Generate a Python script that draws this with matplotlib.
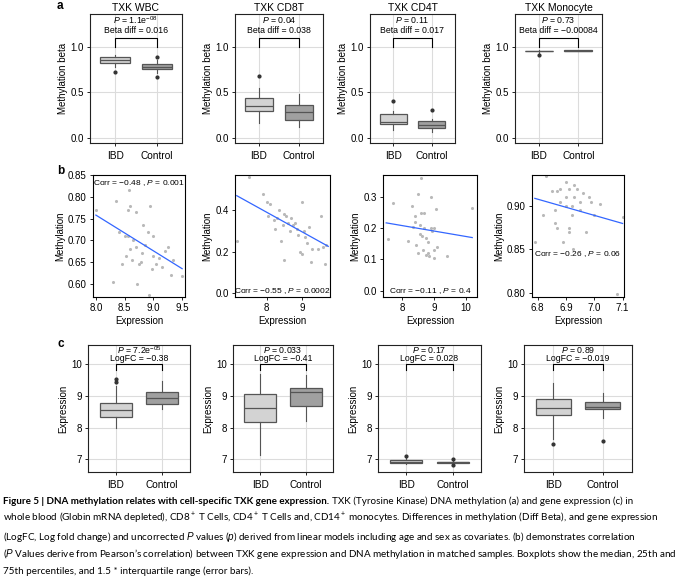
import numpy as np
import matplotlib
matplotlib.use("Agg")
import matplotlib.pyplot as plt

plt.rcParams['font.family'] = ['Liberation Sans', 'DejaVu Sans']
plt.rcParams['mathtext.fontset'] = 'custom'
plt.rcParams['mathtext.it'] = 'Liberation Sans:italic'
plt.rcParams['mathtext.rm'] = 'Liberation Sans'

groups = ['IBD', 'Control']
cells = ['TXK WBC', 'TXK CD8T', 'TXK CD4T', 'TXK Monocyte']

# panel a: methylation boxplot stats (q1, med, q3, whislo, whishi, fliers)
meth_box = [
    [(0.83, 0.865, 0.895, 0.78, 0.92, [0.73]), (0.765, 0.785, 0.815, 0.72, 0.86, [0.67, 0.89])],
    [(0.29, 0.35, 0.44, 0.16, 0.55, [0.68]), (0.20, 0.28, 0.36, 0.12, 0.48, [])],
    [(0.15, 0.17, 0.26, 0.08, 0.30, [0.41]), (0.11, 0.14, 0.18, 0.06, 0.21, [0.31])],
    [(0.955, 0.96, 0.965, 0.94, 0.97, [0.92]), (0.96, 0.965, 0.97, 0.955, 0.975, [])],
]
meth_p = ['1.1e$^{-08}$', '0.04', '0.11', '0.73']
meth_diff = ['0.016', '0.038', '0.017', '\u22120.00084']

# panel c: expression boxplot stats
expr_box = [
    [(8.32, 8.56, 8.76, 8.0, 9.3, [9.45, 9.52]), (8.74, 8.93, 9.12, 8.58, 9.48, [])],
    [(8.17, 8.63, 9.05, 7.15, 9.7, []), (8.68, 9.12, 9.25, 8.2, 9.65, [])],
    [(6.88, 6.92, 6.98, 6.85, 7.05, [7.1]), (6.87, 6.90, 6.93, 6.8, 6.97, [6.82, 7.0])],
    [(8.38, 8.62, 8.9, 7.65, 9.4, [7.48]), (8.58, 8.65, 8.8, 8.3, 9.1, [7.58])],
]
expr_p = ['7.2e$^{-05}$', '0.033', '0.17', '0.89']
expr_fc = ['\u22120.38', '\u22120.41', '0.028', '\u22120.019']

# panel b: scatter data
wbc_x = [8.0, 8.3, 8.35, 8.4, 8.45, 8.5, 8.52, 8.55, 8.57, 8.6, 8.6, 8.62, 8.65, 8.7, 8.7, 8.72, 8.75, 8.8,
         8.82, 8.85, 8.9, 8.92, 8.95, 8.97, 9.0, 9.0, 9.05, 9.1, 9.2, 9.25, 9.3, 9.35, 9.5, 8.55, 8.78, 9.15]
wbc_y = [0.77, 0.605, 0.79, 0.72, 0.645, 0.71, 0.665, 0.77, 0.815, 0.78, 0.68, 0.655, 0.70, 0.765, 0.685, 0.60,
         0.645, 0.67, 0.735, 0.69, 0.72, 0.575, 0.78, 0.635, 0.71, 0.665, 0.645, 0.66, 0.675, 0.685, 0.62, 0.655,
         0.618, 0.71, 0.65, 0.64]
cd8_x = [7.15, 7.5, 7.9, 8.0, 8.05, 8.1, 8.2, 8.25, 8.3, 8.35, 8.4, 8.5, 8.5, 8.55, 8.6, 8.65, 8.7, 8.75, 8.8,
         8.9, 8.95, 9.0, 9.0, 9.05, 9.1, 9.15, 9.2, 9.25, 9.3, 9.45, 9.55, 9.6, 9.65, 9.7, 8.85, 8.45]
cd8_y = [0.25, 0.56, 0.48, 0.44, 0.37, 0.43, 0.35, 0.31, 0.36, 0.40, 0.25, 0.16, 0.38, 0.37, 0.34, 0.30, 0.36,
         0.33, 0.34, 0.28, 0.20, 0.44, 0.19, 0.30, 0.27, 0.24, 0.32, 0.15, 0.21, 0.21, 0.37, 0.22, 0.14, 0.23,
         0.31, 0.33]
cd4_x = [7.55, 7.7, 8.2, 8.3, 8.35, 8.4, 8.45, 8.5, 8.5, 8.55, 8.6, 8.6, 8.62, 8.65, 8.7, 8.7, 8.75, 8.8, 8.8,
         8.85, 8.9, 8.9, 8.95, 9.0, 9.0, 9.0, 9.05, 9.1, 9.4, 10.2, 8.55, 8.4, 8.75]
cd4_y = [0.165, 0.28, 0.16, 0.27, 0.205, 0.24, 0.145, 0.31, 0.12, 0.21, 0.36, 0.25, 0.175, 0.13, 0.25, 0.20,
         0.115, 0.12, 0.155, 0.11, 0.20, 0.30, 0.19, 0.13, 0.105, 0.20, 0.26, 0.14, 0.11, 0.265, 0.18, 0.22, 0.17]
mono_x = [6.79, 6.82, 6.83, 6.85, 6.86, 6.87, 6.87, 6.88, 6.88, 6.89, 6.9, 6.9, 6.9, 6.91, 6.91, 6.91, 6.92,
          6.92, 6.925, 6.93, 6.93, 6.94, 6.95, 6.96, 6.97, 6.98, 6.99, 7.0, 7.02, 7.08, 7.1, 6.86, 6.95]
mono_y = [0.858, 0.89, 0.935, 0.917, 0.895, 0.918, 0.875, 0.905, 0.92, 0.858, 0.91, 0.928, 0.90, 0.92, 0.87,
          0.875, 0.90, 0.89, 0.85, 0.925, 0.91, 0.92, 0.905, 0.915, 0.87, 0.91, 0.905, 0.89, 0.903, 0.798,
          0.887, 0.88, 0.895]
scatter_x = [wbc_x, cd8_x, cd4_x, mono_x]
scatter_y = [wbc_y, cd8_y, cd4_y, mono_y]
fit_x = [(8.0, 9.5), (7.15, 9.75), (7.5, 10.2), (6.79, 7.1)]
fit_y = [(0.758, 0.635), (0.47, 0.225), (0.217, 0.17), (0.909, 0.88)]
corr_r = ['\u22120.48', '\u22120.55', '\u22120.11', '\u22120.26']
corr_p = ['0.001', '0.0002', '0.4', '0.06']
sc_xlim = [(7.95, 9.55), (7.1, 9.8), (7.4, 10.35), (6.78, 7.105)]
sc_ylim = [(0.57, 0.85), (-0.02, 0.57), (-0.02, 0.37), (0.795, 0.936)]
sc_xticks = [[8.0, 8.5, 9.0, 9.5], [8, 9], [8, 9, 10], [6.8, 6.9, 7.0, 7.1]]
sc_yticks = [[0.60, 0.65, 0.70, 0.75, 0.80, 0.85], [0.0, 0.2, 0.4], [0.0, 0.1, 0.2, 0.3], [0.80, 0.85, 0.90]]
sc_xfmt = ['%.1f', '%d', '%d', '%.1f']
sc_yfmt = ['%.2f', '%.1f', '%.1f', '%.2f']
corr_pos = [(0.5, 0.93), (0.5, 0.05), (0.5, 0.05), (0.5, 0.35)]

W, H = 685, 576
fig = plt.figure(figsize=(W / 100, H / 100), dpi=100)

def px_axes(x0, y0, x1, y1):
    return fig.add_axes([x0 / W, 1 - y1 / H, (x1 - x0) / W, (y1 - y0) / H])

def style(ax):
    ax.grid(True, color='#dcdcdc', lw=0.8)
    ax.set_axisbelow(True)
    for s in ax.spines.values():
        s.set_color('#222222')
        s.set_linewidth(0.8)
    ax.tick_params(labelsize=7, length=2.5, width=0.6, pad=2)

fs = 7
a_x = [(90, 182), (235, 323), (370, 455), (515, 602)]
c_x = [(88, 190), (233, 333), (378, 481), (524, 632)]
b_x = [(93, 185), (235, 330), (383, 477), (532, 624)]

def boxpanel(ax, stats, ptxt, second, ylim, yticks, yfmt, ylabel, brk, t1, t2):
    bs = []
    for g, (q1, med, q3, lo, hi, fl) in zip(groups, stats):
        bs.append(dict(q1=q1, med=med, q3=q3, whislo=lo, whishi=hi, fliers=fl, label=g))
    b = ax.bxp(bs, positions=[1, 2], widths=0.7, patch_artist=True, showcaps=False,
               boxprops=dict(edgecolor='#555555', lw=0.9),
               medianprops=dict(color='#555555', lw=0.9),
               whiskerprops=dict(color='#555555', lw=0.8),
               flierprops=dict(marker='o', markersize=2, markerfacecolor='#333333', markeredgecolor='#333333'))
    for patch, col in zip(b['boxes'], ['#d3d3d3', '#a0a0a0']):
        patch.set_facecolor(col)
    ax.set_xlim(0.4, 2.6)
    ax.set_ylim(*ylim)
    ax.set_yticks(yticks)
    ax.set_yticklabels([yfmt % v for v in yticks])
    ax.set_ylabel(ylabel, fontsize=fs, labelpad=2)
    ax.plot([1, 1, 2, 2], [brk[0], brk[1], brk[1], brk[0]], color='black', lw=0.8)
    ax.text(1.5, t1, '$P$ = ' + ptxt, ha='center', va='center', fontsize=6.3)
    ax.text(1.5, t2, second, ha='center', va='center', fontsize=6.3)
    style(ax)
    ax.tick_params(axis='x', labelsize=7.3, pad=3)

for i in range(4):
    ax = px_axes(a_x[i][0], 14, a_x[i][1], 143)
    boxpanel(ax, meth_box[i], meth_p[i], 'Beta diff = ' + meth_diff[i], (-0.06, 1.37),
             [0.0, 0.5, 1.0], '%.1f', 'Methylation beta', (1.0, 1.1), 1.3, 1.19)
    ax.set_title(cells[i], fontsize=7.5, pad=2)

for i in range(4):
    ax = px_axes(b_x[i][0], 175, b_x[i][1], 297)
    ax.scatter(scatter_x[i], scatter_y[i], s=5, color='#a8a8a8', alpha=0.8, lw=0)
    ax.plot(fit_x[i], fit_y[i], color='#3366ff', lw=0.9)
    ax.set_xlim(*sc_xlim[i])
    ax.set_ylim(*sc_ylim[i])
    ax.set_xticks(sc_xticks[i])
    ax.set_xticklabels([sc_xfmt[i] % v for v in sc_xticks[i]])
    ax.set_yticks(sc_yticks[i])
    ax.set_yticklabels([sc_yfmt[i] % v for v in sc_yticks[i]])
    ax.set_xlabel('Expression', fontsize=fs, labelpad=2)
    ax.set_ylabel('Methylation', fontsize=fs, labelpad=2)
    ax.grid(False)
    for s in ax.spines.values():
        s.set_linewidth(0.8)
    ax.tick_params(labelsize=7, length=2.5, width=0.6, pad=2)
    ax.text(corr_pos[i][0], corr_pos[i][1], 'Corr = %s , $P$ = %s' % (corr_r[i], corr_p[i]),
            transform=ax.transAxes, ha='center', va='center', fontsize=6)

for i in range(4):
    ax = px_axes(c_x[i][0], 345, c_x[i][1], 472)
    boxpanel(ax, expr_box[i], expr_p[i], 'LogFC = ' + expr_fc[i], (6.6, 10.6),
             [7, 8, 9, 10], '%d', 'Expression', (9.8, 10.0), 10.45, 10.17)

fig.text(57 / W, 1 - 6 / H, 'a', fontsize=8.5, fontweight='bold', va='center')
fig.text(57 / W, 1 - 171 / H, 'b', fontsize=8.5, fontweight='bold', va='center')
fig.text(57 / W, 1 - 344 / H, 'c', fontsize=8.5, fontweight='bold', va='center')

cap_fs = 7.1
cap_font = ['Lato', 'DejaVu Sans']
t = fig.text(3 / W, 1 - 504 / H, 'Figure 5 | DNA methylation relates with cell-specific TXK gene expression.',
             fontsize=cap_fs, fontweight='bold', family=cap_font, va='baseline')
fig.canvas.draw()
ext = t.get_window_extent()
fig.text((ext.x1 + 3) / W, 1 - 504 / H,
         'TXK (Tyrosine Kinase) DNA methylation (a) and gene expression (c) in',
         fontsize=cap_fs, family=cap_font, va='baseline')
cap_lines = [
    'whole blood (Globin mRNA depleted), CD8$^+$ T Cells, CD4$^+$ T Cells and, CD14$^+$ monocytes. Differences in methylation (Diff Beta), and gene expression',
    '(LogFC, Log fold change) and uncorrected $P$ values ($p$) derived from linear models including age and sex as covariates. (b) demonstrates correlation',
    '($P$ Values derive from Pearson\u2019s correlation) between TXK gene expression and DNA methylation in matched samples. Boxplots show the median, 25th and',
    '75th percentiles, and 1.5 * interquartile range (error bars).',
]
for k, line in enumerate(cap_lines):
    fig.text(3 / W, 1 - (522 + 17.5 * k) / H, line, fontsize=cap_fs, family=cap_font, va='baseline')

fig.savefig('out.png', dpi=100)
